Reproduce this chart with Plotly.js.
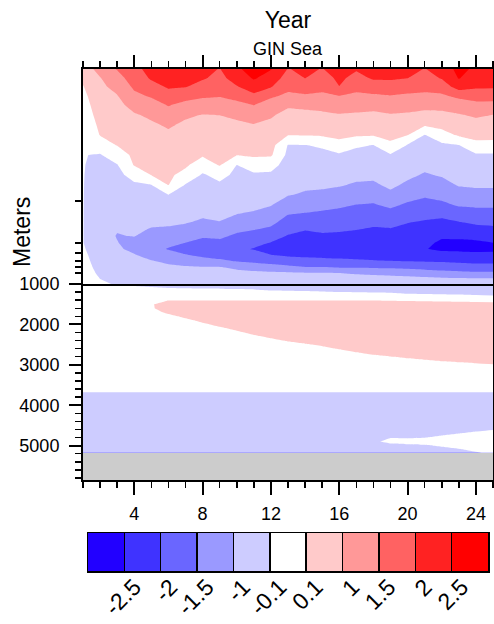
<!DOCTYPE html>
<html><head><meta charset="utf-8">
<script src="https://cdn.plot.ly/plotly-3.0.1.min.js"></script>
<style>html,body{margin:0;padding:0;background:#fff}#chart{width:494px;height:624px}</style>
</head><body><div id="chart"></div>
<script>
// ---------------- data ----------------
const years = [1,2,3,4,5,6,7,8,9,10,11,12,13,14,15,16,17,18,19,20,21,22,23,24,25];
const depthUpper = [100,110,121,134,147,164,182,203,226,251,280,311,346,385,429,478,515,555,598,645,687,733,782,834,889,948,1000];
const depthLower = [1000,1100,1200,1300,1400,1500,1600,1700,1800,1900,2000,2100,2200,2300,2400,2500,2600,2700,2800,2900,3000,3200,3400,3600,3800,4000,4200,4400,4600,4700,4800,4900,5000,5100,5175];
const levels = [-2.5,-2,-1.5,-1,-0.1,0.1,1,1.5,2,2.5];
const levelLabels = ['-2.5','-2','-1.5','-1','-0.1','0.1','1','1.5','2','2.5'];
const fillColors = ['#2200ff','#3f33ff','#6a66ff','#9a99ff','#cdccff','#ffffff','#ffcaca','#ff9898','#ff6262','#ff2222','#ff0000'];
const upperTicks = [411,645,718,782,834,889];

// upper panel (100-1000 m), one array per year, values top -> bottom
const up01 = [0.46,0.28,0.09,0.05,0.02,-0.01,-0.04,-0.07,-0.085,-0.095,-0.095,-0.095,-0.095,-0.095,-0.095,-0.095,-0.095,-0.095,-0.095,-0.095,-0.08,-0.06,-0.04,-0.03,-0.02,-0.01,0.0];
const up02 = [1.2,0.96,0.83,0.69,0.57,0.42,0.27,0.13,-0.02,-0.15,-0.24,-0.33,-0.42,-0.51,-0.57,-0.6,-0.63,-0.65,-0.68,-0.64,-0.59,-0.52,-0.47,-0.35,-0.23,-0.1,-0.08];
const up03 = [1.53,1.33,1.13,0.95,0.8,0.63,0.47,0.3,0.14,-0.01,-0.15,-0.3,-0.43,-0.57,-0.69,-0.8,-0.87,-0.95,-1.02,-0.97,-0.89,-0.8,-0.7,-0.56,-0.42,-0.27,-0.15];
const up04 = [1.85,1.72,1.58,1.39,1.14,0.92,0.77,0.61,0.46,0.3,0.15,-0.04,-0.21,-0.35,-0.5,-0.66,-0.76,-0.87,-0.97,-1.15,-1.1,-0.95,-0.79,-0.63,-0.48,-0.33,-0.19];
const up05 = [2.18,2.06,1.84,1.54,1.31,1.07,0.89,0.73,0.58,0.42,0.26,0.12,-0.12,-0.31,-0.52,-0.73,-0.87,-1.02,-1.17,-1.32,-1.34,-1.16,-0.96,-0.78,-0.59,-0.4,-0.24];
const up06 = [2.3,2.17,2.05,1.81,1.53,1.29,1.05,0.87,0.72,0.57,0.41,0.25,0.12,-0.12,-0.38,-0.66,-0.86,-1.05,-1.22,-1.38,-1.53,-1.3,-1.08,-0.87,-0.66,-0.45,-0.28];
const up07 = [2.25,2.13,2.02,1.67,1.36,1.06,0.87,0.7,0.54,0.38,0.22,0.04,-0.16,-0.37,-0.58,-0.79,-0.94,-1.11,-1.31,-1.51,-1.65,-1.48,-1.2,-0.93,-0.69,-0.47,-0.28];
const up08 = [2.15,2.05,1.85,1.56,1.27,0.96,0.77,0.58,0.39,0.2,0.0,-0.19,-0.37,-0.55,-0.73,-0.91,-1.06,-1.25,-1.45,-1.62,-1.75,-1.59,-1.34,-0.98,-0.75,-0.5,-0.28];
const up09 = [1.98,1.88,1.71,1.52,1.28,1.0,0.83,0.66,0.49,0.33,0.15,-0.04,-0.24,-0.45,-0.65,-0.86,-1.01,-1.21,-1.41,-1.61,-1.78,-1.65,-1.43,-0.98,-0.75,-0.5,-0.28];
const up10 = [2.4,2.19,1.97,1.65,1.36,1.09,0.83,0.59,0.34,0.12,-0.12,-0.3,-0.47,-0.65,-0.82,-1.01,-1.2,-1.39,-1.58,-1.75,-1.9,-1.72,-1.53,-1.09,-0.79,-0.53,-0.33];
const up11 = [2.75,2.56,2.25,1.88,1.51,1.22,0.96,0.71,0.47,0.23,-0.01,-0.23,-0.42,-0.63,-0.84,-1.06,-1.27,-1.47,-1.67,-1.86,-2.03,-1.82,-1.61,-1.2,-0.82,-0.55,-0.33];
const up12 = [2.53,2.28,2.03,1.56,1.3,1.05,0.83,0.62,0.42,0.21,-0.03,-0.26,-0.5,-0.72,-0.96,-1.2,-1.38,-1.57,-1.8,-2.03,-2.2,-1.99,-1.7,-1.3,-0.87,-0.6,-0.37];
const up13 = [1.98,1.8,1.62,1.4,1.07,0.74,0.42,0.12,-0.14,-0.3,-0.47,-0.63,-0.8,-0.96,-1.22,-1.51,-1.68,-1.85,-2.03,-2.19,-2.27,-2.07,-1.78,-1.4,-0.9,-0.61,-0.37];
const up14 = [2.1,2.01,1.74,1.43,1.11,0.78,0.45,0.14,-0.12,-0.3,-0.49,-0.67,-0.86,-1.05,-1.3,-1.56,-1.77,-1.97,-2.11,-2.24,-2.29,-2.1,-1.84,-1.49,-0.95,-0.63,-0.37];
const up15 = [1.98,1.8,1.62,1.41,1.15,0.84,0.51,0.2,-0.08,-0.28,-0.47,-0.67,-0.87,-1.09,-1.36,-1.61,-1.76,-1.92,-2.06,-2.2,-2.27,-2.11,-1.88,-1.49,-0.97,-0.64,-0.37];
const up16 = [2.2,2.1,1.99,1.47,1.22,0.94,0.63,0.32,0.03,-0.22,-0.45,-0.69,-0.93,-1.18,-1.43,-1.65,-1.79,-1.94,-2.08,-2.23,-2.3,-2.13,-1.91,-1.56,-1.0,-0.66,-0.37];
const up17 = [2.05,1.85,1.63,1.4,1.18,0.89,0.55,0.21,-0.08,-0.32,-0.56,-0.8,-1.05,-1.28,-1.51,-1.7,-1.84,-1.98,-2.12,-2.26,-2.32,-2.15,-1.94,-1.56,-1.05,-0.67,-0.37];
const up18 = [2.2,2.06,1.78,1.41,1.15,0.83,0.5,0.16,-0.12,-0.34,-0.59,-0.83,-1.07,-1.31,-1.54,-1.75,-1.9,-2.04,-2.16,-2.29,-2.35,-2.17,-1.97,-1.57,-1.09,-0.69,-0.37];
const up19 = [2.2,2.06,1.81,1.47,1.22,0.94,0.64,0.34,0.06,-0.17,-0.39,-0.62,-0.84,-1.1,-1.41,-1.68,-1.85,-2.02,-2.15,-2.28,-2.35,-2.18,-1.99,-1.6,-1.13,-0.7,-0.37];
const up20 = [2.18,2.01,1.7,1.42,1.19,0.88,0.49,0.12,-0.15,-0.38,-0.6,-0.84,-1.08,-1.33,-1.57,-1.81,-1.98,-2.1,-2.21,-2.32,-2.37,-2.2,-2.02,-1.64,-1.17,-0.72,-0.37];
const up21 = [1.98,1.8,1.62,1.41,1.15,0.74,0.21,-0.13,-0.35,-0.59,-0.81,-1.04,-1.24,-1.44,-1.66,-1.89,-2.04,-2.15,-2.26,-2.38,-2.48,-2.26,-2.04,-1.69,-1.25,-0.77,-0.37];
const up22 = [2.2,2.04,1.73,1.41,1.15,0.79,0.39,0.01,-0.24,-0.47,-0.7,-0.93,-1.15,-1.36,-1.6,-1.91,-2.1,-2.26,-2.43,-2.59,-2.58,-2.35,-2.05,-1.72,-1.34,-0.82,-0.37];
const up23 = [2.65,2.53,2.21,1.6,1.25,0.93,0.57,0.21,-0.12,-0.31,-0.52,-0.73,-0.94,-1.19,-1.45,-1.77,-2.01,-2.21,-2.41,-2.6,-2.59,-2.37,-2.09,-1.77,-1.38,-0.86,-0.37];
const up24 = [2.4,2.23,2.06,1.7,1.36,1.06,0.72,0.38,0.04,-0.21,-0.44,-0.66,-0.89,-1.14,-1.42,-1.71,-1.91,-2.14,-2.37,-2.58,-2.59,-2.41,-2.14,-1.81,-1.42,-0.89,-0.37];
const up25 = [2.35,2.2,2.05,1.7,1.34,0.98,0.68,0.36,0.04,-0.21,-0.44,-0.66,-0.89,-1.14,-1.42,-1.7,-1.89,-2.09,-2.3,-2.51,-2.58,-2.41,-2.14,-1.81,-1.42,-0.89,-0.37];

// lower panel (1000-5175 m), one array per year
const lo01 = [0.0,0.0,0.01,0.02,0.03,0.03,0.03,0.03,0.03,0.03,0.03,0.03,0.03,0.02,0.02,0.02,0.02,0.01,0.01,0.0,0.0,-0.01,-0.03,-0.06,-0.37,-0.42,-0.44,-0.44,-0.42,-0.37,-0.33,-0.28,-0.28,-0.28,-0.28];
const lo02 = [-0.08,-0.03,0.0,0.02,0.04,0.04,0.04,0.04,0.04,0.04,0.04,0.04,0.03,0.03,0.02,0.02,0.02,0.01,0.01,0.0,0.0,-0.01,-0.03,-0.06,-0.37,-0.42,-0.44,-0.44,-0.42,-0.37,-0.33,-0.28,-0.28,-0.28,-0.28];
const lo03 = [-0.145,-0.06,-0.01,0.02,0.04,0.05,0.05,0.05,0.04,0.04,0.04,0.04,0.03,0.03,0.02,0.02,0.02,0.01,0.01,0.0,0.0,-0.01,-0.03,-0.06,-0.37,-0.42,-0.44,-0.44,-0.42,-0.37,-0.33,-0.28,-0.28,-0.28,-0.28];
const lo04 = [-0.19,-0.08,-0.02,0.02,0.05,0.07,0.07,0.06,0.05,0.04,0.04,0.04,0.03,0.03,0.02,0.02,0.02,0.01,0.01,0.0,0.0,-0.01,-0.03,-0.06,-0.37,-0.42,-0.44,-0.44,-0.42,-0.37,-0.33,-0.28,-0.28,-0.28,-0.28];
const lo05 = [-0.235,-0.09,-0.03,0.02,0.08,0.09,0.09,0.07,0.05,0.04,0.03,0.03,0.03,0.03,0.02,0.02,0.02,0.01,0.01,0.0,0.0,-0.01,-0.03,-0.06,-0.37,-0.42,-0.44,-0.44,-0.42,-0.37,-0.33,-0.28,-0.28,-0.28,-0.28];
const lo06 = [-0.28,-0.1,-0.04,0.02,0.096,0.325,0.28,0.172,0.08,0.06,0.05,0.04,0.04,0.03,0.02,0.02,0.02,0.01,0.01,0.0,0.0,-0.01,-0.03,-0.06,-0.37,-0.42,-0.44,-0.44,-0.42,-0.37,-0.33,-0.28,-0.28,-0.28,-0.28];
const lo07 = [-0.28,-0.118,-0.04,0.02,0.096,0.325,0.325,0.28,0.172,0.084,0.064,0.05,0.04,0.03,0.03,0.02,0.02,0.01,0.01,0.0,0.0,-0.01,-0.03,-0.06,-0.37,-0.42,-0.44,-0.44,-0.42,-0.37,-0.33,-0.28,-0.28,-0.28,-0.28];
const lo08 = [-0.28,-0.136,-0.05,0.02,0.096,0.325,0.352,0.325,0.262,0.172,0.09,0.07,0.056,0.04,0.03,0.03,0.02,0.02,0.01,0.01,0.0,-0.01,-0.03,-0.06,-0.37,-0.42,-0.44,-0.44,-0.42,-0.37,-0.33,-0.28,-0.28,-0.28,-0.28];
const lo09 = [-0.28,-0.145,-0.05,0.02,0.096,0.325,0.37,0.352,0.298,0.235,0.163,0.09,0.07,0.056,0.04,0.03,0.03,0.02,0.02,0.01,0.0,-0.01,-0.03,-0.06,-0.37,-0.42,-0.44,-0.44,-0.42,-0.37,-0.33,-0.28,-0.28,-0.28,-0.28];
const lo10 = [-0.325,-0.172,-0.056,0.02,0.096,0.325,0.37,0.37,0.325,0.28,0.217,0.154,0.09,0.07,0.056,0.04,0.03,0.03,0.02,0.01,0.0,-0.01,-0.03,-0.06,-0.37,-0.42,-0.44,-0.44,-0.42,-0.37,-0.33,-0.28,-0.28,-0.28,-0.28];
const lo11 = [-0.325,-0.19,-0.06,0.02,0.096,0.325,0.37,0.37,0.352,0.307,0.262,0.208,0.154,0.092,0.072,0.056,0.04,0.03,0.02,0.01,0.0,-0.01,-0.03,-0.06,-0.37,-0.42,-0.44,-0.44,-0.42,-0.37,-0.33,-0.28,-0.28,-0.28,-0.28];
const lo12 = [-0.37,-0.235,-0.08,0.01,0.096,0.325,0.37,0.388,0.37,0.325,0.28,0.244,0.208,0.136,0.09,0.072,0.056,0.04,0.03,0.02,0.01,-0.01,-0.03,-0.06,-0.37,-0.42,-0.44,-0.44,-0.42,-0.37,-0.33,-0.28,-0.28,-0.28,-0.28];
const lo13 = [-0.37,-0.235,-0.084,0.0,0.096,0.325,0.37,0.388,0.37,0.343,0.307,0.271,0.235,0.19,0.118,0.088,0.07,0.054,0.04,0.024,0.01,-0.01,-0.03,-0.06,-0.37,-0.42,-0.44,-0.44,-0.42,-0.37,-0.33,-0.28,-0.28,-0.28,-0.28];
const lo14 = [-0.37,-0.253,-0.088,0.0,0.096,0.325,0.37,0.388,0.37,0.352,0.325,0.289,0.253,0.208,0.163,0.096,0.08,0.064,0.048,0.03,0.016,-0.01,-0.03,-0.06,-0.37,-0.42,-0.44,-0.44,-0.42,-0.37,-0.33,-0.28,-0.28,-0.28,-0.28];
const lo15 = [-0.37,-0.262,-0.094,0.0,0.096,0.325,0.37,0.388,0.37,0.352,0.334,0.307,0.28,0.235,0.19,0.127,0.09,0.074,0.056,0.04,0.02,-0.006,-0.03,-0.06,-0.37,-0.42,-0.44,-0.44,-0.42,-0.37,-0.33,-0.28,-0.28,-0.28,-0.28];
const lo16 = [-0.37,-0.28,-0.1,-0.01,0.096,0.325,0.37,0.388,0.388,0.37,0.343,0.316,0.289,0.253,0.226,0.19,0.109,0.086,0.068,0.05,0.03,0.0,-0.026,-0.06,-0.37,-0.42,-0.44,-0.44,-0.42,-0.37,-0.33,-0.28,-0.28,-0.28,-0.28];
const lo17 = [-0.37,-0.28,-0.118,-0.01,0.096,0.325,0.37,0.388,0.388,0.37,0.352,0.325,0.298,0.271,0.244,0.208,0.163,0.098,0.08,0.06,0.04,0.004,-0.024,-0.06,-0.37,-0.42,-0.44,-0.44,-0.42,-0.37,-0.33,-0.28,-0.28,-0.28,-0.28];
const lo18 = [-0.37,-0.28,-0.136,-0.02,0.096,0.325,0.37,0.388,0.388,0.37,0.352,0.334,0.316,0.289,0.262,0.235,0.19,0.136,0.092,0.072,0.05,0.01,-0.02,-0.06,-0.37,-0.42,-0.44,-0.44,-0.37,-0.33,-0.26,-0.19,-0.24,-0.28,-0.28];
const lo19 = [-0.37,-0.298,-0.154,-0.024,0.092,0.325,0.37,0.388,0.388,0.37,0.361,0.343,0.325,0.298,0.271,0.244,0.208,0.163,0.099,0.08,0.06,0.016,-0.02,-0.06,-0.37,-0.42,-0.44,-0.44,-0.33,-0.24,-0.12,-0.07,-0.24,-0.28,-0.28];
const lo20 = [-0.37,-0.307,-0.217,-0.06,0.088,0.298,0.352,0.37,0.388,0.37,0.361,0.343,0.325,0.307,0.28,0.253,0.226,0.181,0.127,0.09,0.07,0.02,-0.016,-0.06,-0.37,-0.42,-0.44,-0.44,-0.33,-0.24,-0.145,-0.06,-0.19,-0.28,-0.28];
const lo21 = [-0.37,-0.307,-0.226,-0.066,0.084,0.28,0.334,0.37,0.388,0.37,0.361,0.352,0.334,0.316,0.298,0.271,0.244,0.208,0.154,0.096,0.076,0.024,-0.016,-0.06,-0.37,-0.42,-0.44,-0.44,-0.28,-0.19,-0.11,-0.06,-0.145,-0.28,-0.28];
const lo22 = [-0.37,-0.316,-0.235,-0.072,0.08,0.262,0.325,0.37,0.388,0.37,0.361,0.352,0.334,0.316,0.298,0.28,0.253,0.217,0.172,0.109,0.086,0.03,-0.014,-0.06,-0.37,-0.42,-0.44,-0.43,-0.28,-0.17,-0.084,-0.05,-0.09,-0.235,-0.28];
const lo23 = [-0.37,-0.316,-0.244,-0.08,0.076,0.253,0.316,0.361,0.379,0.37,0.361,0.352,0.343,0.325,0.307,0.289,0.262,0.235,0.19,0.127,0.09,0.034,-0.012,-0.06,-0.37,-0.42,-0.44,-0.42,-0.235,-0.1,-0.07,-0.04,-0.07,-0.145,-0.235];
const lo24 = [-0.37,-0.325,-0.253,-0.088,0.072,0.244,0.307,0.352,0.37,0.37,0.361,0.352,0.343,0.334,0.316,0.298,0.271,0.244,0.208,0.145,0.094,0.036,-0.01,-0.06,-0.37,-0.42,-0.43,-0.4,-0.19,-0.08,-0.05,-0.03,-0.05,-0.08,-0.145];
const lo25 = [-0.37,-0.325,-0.262,-0.092,0.07,0.235,0.298,0.343,0.37,0.37,0.361,0.352,0.343,0.334,0.325,0.307,0.28,0.253,0.217,0.163,0.098,0.04,-0.01,-0.06,-0.37,-0.42,-0.42,-0.37,-0.118,-0.07,-0.04,-0.02,-0.03,-0.06,-0.08];

const upperCols = [up01,up02,up03,up04,up05,up06,up07,up08,up09,up10,up11,up12,up13,up14,up15,up16,up17,up18,up19,up20,up21,up22,up23,up24,up25];
const lowerCols = [lo01,lo02,lo03,lo04,lo05,lo06,lo07,lo08,lo09,lo10,lo11,lo12,lo13,lo14,lo15,lo16,lo17,lo18,lo19,lo20,lo21,lo22,lo23,lo24,lo25];

// ---------------- helpers ----------------
// map a value onto the index of the (irregular) contour level band it falls in
function toIdx(v) {
  if (v === null || v === undefined || isNaN(v)) return null;
  const L = levels, n = L.length;
  if (v <= L[0]) return 0.5 + (v - L[0]) / (L[1] - L[0]);
  for (let i = 0; i < n - 1; i++) {
    if (v <= L[i + 1]) return 0.5 + i + (v - L[i]) / (L[i + 1] - L[i]);
  }
  return n - 0.5 + (v - L[n - 1]) / (L[n - 1] - L[n - 2]);
}
function gridFromCols(cols) {
  const nr = cols[0].length, out = [];
  for (let r = 0; r < nr; r++) out.push(cols.map(c => toIdx(c[r])));
  return out;
}
const nC = fillColors.length;
const cscale = [];
fillColors.forEach((c, k) => {
  const a = k === 0 ? 0 : (k - 0.5) / (nC - 1);
  const b = k === nC - 1 ? 1 : (k + 0.5) / (nC - 1);
  cscale.push([a, c], [b, c]);
});
const contourCommon = {
  type: 'contour', autocontour: false,
  contours: {start: 0.5, end: levels.length - 0.5, size: 1, coloring: 'fill', showlines: false},
  colorscale: cscale, showscale: false, line: {width: 0, smoothing: 0}, hoverinfo: 'skip'
};

const traces = [
  Object.assign({}, contourCommon, {x: years, y: depthUpper, z: gridFromCols(upperCols), xaxis: 'x2', yaxis: 'y2'}),
  Object.assign({}, contourCommon, {x: years, y: depthLower, z: gridFromCols(lowerCols), xaxis: 'x', yaxis: 'y'}),
  {type: 'heatmap', x: fillColors.map((c, i) => i), y: [0], z: [fillColors.map((c, i) => i)],
   zmin: 0, zmax: nC - 1, colorscale: cscale, showscale: false, xaxis: 'x3', yaxis: 'y3', hoverinfo: 'skip'}
];

const FONT = '"Liberation Sans", Arial, Helvetica, sans-serif';
const H = 624, T = 69, B = 53, PH = H - T - B;
const py = px => (H - B - px) / PH;
const xTicks = [4, 8, 12, 16, 20, 24];
const minorX = {tickmode: 'linear', tick0: 0, dtick: 1, ticks: 'outside', ticklen: 6, tickwidth: 1.5, tickcolor: '#000', showgrid: false};
const axLine = {showline: true, linewidth: 2, linecolor: '#000', mirror: true, showgrid: false, zeroline: false, tickcolor: '#000'};

const layout = {
  width: 494, height: 624,
  margin: {l: 83, r: 1, t: T, b: B, pad: 0},
  paper_bgcolor: '#ffffff', plot_bgcolor: '#cccccc',
  font: {family: FONT, size: 18, color: '#000'},
  showlegend: false,
  title: {text: 'Year', font: {family: FONT, size: 23, color: '#000'}, x: 0.5, xref: 'paper', xanchor: 'center',
          y: 1 - 20 / H, yref: 'container', yanchor: 'middle'},
  xaxis: Object.assign({}, axLine, {domain: [0, 1], anchor: 'y', range: [1, 25], tickmode: 'array', tickvals: xTicks,
          ticks: 'outside', ticklen: 13, tickwidth: 2, minor: minorX, tickfont: {size: 18}, ticklabelstandoff: 3}),
  xaxis2: Object.assign({}, axLine, {domain: [0, 1], anchor: 'y2', range: [1, 25], side: 'top', tickmode: 'array', tickvals: xTicks,
          ticks: 'outside', ticklen: 12, tickwidth: 2, minor: minorX, showticklabels: false}),
  yaxis: Object.assign({}, axLine, {domain: [py(480), py(284)], anchor: 'x', range: [5850, 1000], tickmode: 'array',
          tickvals: [1000, 2000, 3000, 4000, 5000], ticks: 'outside', ticklen: 12, tickwidth: 2,
          minor: {tickmode: 'linear', tick0: 1000, dtick: 200, ticks: 'outside', ticklen: 6, tickwidth: 1.5, tickcolor: '#000', showgrid: false},
          tickfont: {size: 18}, ticklabelstandoff: 6}),
  yaxis2: Object.assign({}, axLine, {domain: [py(284), 1], anchor: 'x2', type: 'log', range: [3, 2], tickmode: 'array',
          tickvals: upperTicks, ticktext: upperTicks.map(() => ''), ticks: 'outside', ticklen: 6, tickwidth: 1.5}),
  xaxis3: {domain: [(88 - 83) / 410, (488 - 83) / 410], anchor: 'y3', range: [-0.5, nC - 0.5], tickmode: 'array',
           tickvals: levels.map((v, i) => i + 0.5), ticktext: levelLabels, tickangle: -45,
           ticks: 'inside', ticklen: 38, tickwidth: 1.5, tickcolor: '#000', layer: 'above traces',
           showline: true, linewidth: 1.5, linecolor: '#000', mirror: true, showgrid: false, zeroline: false,
           tickfont: {size: 23}, ticklabelshift: 10, ticklabelstandoff: -8},
  yaxis3: {domain: [0, py(533)], anchor: 'x3', range: [-0.5, 0.5], showticklabels: false, ticks: '',
           showline: true, linewidth: 1.5, linecolor: '#000', mirror: true, showgrid: false, zeroline: false},
  annotations: [
    {text: 'GIN Sea', xref: 'paper', yref: 'paper', x: 0.5, y: py(49), xanchor: 'center', yanchor: 'middle',
     showarrow: false, font: {family: FONT, size: 18, color: '#000'}},
    {text: 'Meters', xref: 'paper', yref: 'paper', x: (22 - 83) / 410, y: py(232), xanchor: 'center', yanchor: 'middle',
     textangle: -90, showarrow: false, font: {family: FONT, size: 23, color: '#000'}}
  ]
};

Plotly.newPlot('chart', traces, layout, {staticPlot: true, displayModeBar: false});
</script></body></html>
